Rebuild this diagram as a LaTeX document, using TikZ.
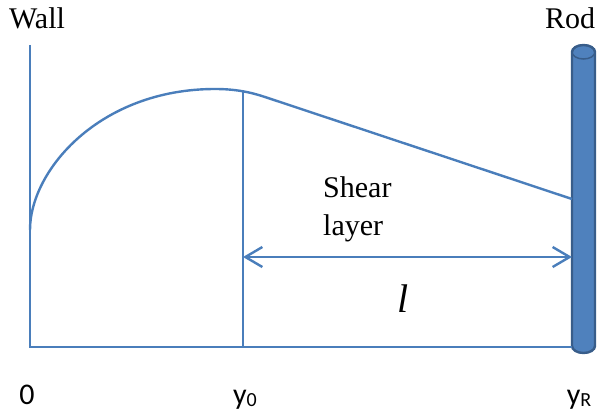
\documentclass[tikz,border=0pt]{standalone}
\usepackage{fontspec}
\setmainfont{Liberation Serif}
\newfontfamily\axfont{Carlito}
\usetikzlibrary{arrows.meta, positioning}

\definecolor{plotblue}{HTML}{4A7EBB}
\definecolor{rodfill}{HTML}{4F81BD}
\definecolor{rodedge}{HTML}{385D8A}

\begin{document}
\begin{tikzpicture}[
    x=1pt, y=-1pt,
    plotline/.style={draw=plotblue, line width=2.4pt},
    dimarr/.style={{Straight Barb[length=17pt, width=20pt]}-{Straight Barb[length=17pt, width=20pt]}, plotblue, line width=2.4pt},
    rod/.style={fill=rodfill, draw=rodedge, line width=2.4pt},
    tag/.style={font=\fontsize{30}{38}\selectfont, inner sep=0pt},
    axlbl/.style={font=\axfont\fontsize{30}{36}\selectfont, inner sep=0pt, anchor=base}
]
    \useasboundingbox (0,0) rectangle (599,412);

    % key points
    \coordinate (o) at (30,347);
    \coordinate (wtop) at (30,45);
    \coordinate (wstart) at (30,230);
    \coordinate (peak) at (215,89);
    \coordinate (knee) at (265,97);
    \coordinate (ytop) at (243,91);
    \coordinate (ybot) at (243,347);
    \coordinate (rhit) at (572,199);
    \coordinate (rbot) at (572,347);
    \coordinate (aleft) at (243,257);
    \coordinate (aright) at (572,257);

    % rod
    \path[rod] (572,52) -- (572,346) arc[start angle=180, end angle=0, x radius=11.5, y radius=7]
        -- (595,52) arc[start angle=0, end angle=-180, x radius=11.5, y radius=7] -- cycle;
    \draw[rodedge, line width=1.5pt] (583.5,52) ellipse[x radius=11.5, y radius=7];

    % axes and profile
    \draw[plotline] (wtop) -- (o) -- (rbot);
    \draw[plotline] (ybot) -- (ytop);
    \draw[plotline] (wstart) .. controls (30,170) and (100,89) .. (peak)
        .. controls (235,89) and (250,92) .. (knee) -- (rhit);
    \draw[dimarr] (aleft) -- (aright);

    % labels
    \node[tag] (wall) at (37,18) {Wall};
    \node[tag] (rodlbl) at (570,18) {Rod};
    \node[tag, align=left, anchor=base west] (shear) at (323,235) {Shear\\layer};
    \node[tag, anchor=base, font=\fontsize{40}{40}\selectfont\itshape] (len) at (403,312) {l};
    \node[axlbl] (lbl0) at (27,404) {0};
    \node[axlbl] (lbly0) at (245,404) {y\raisebox{-2pt}{\fontsize{20}{20}\selectfont 0}};
    \node[axlbl] (lblyR) at (579,404) {y\raisebox{-2pt}{\fontsize{20}{20}\selectfont R}};
\end{tikzpicture}
\end{document}
